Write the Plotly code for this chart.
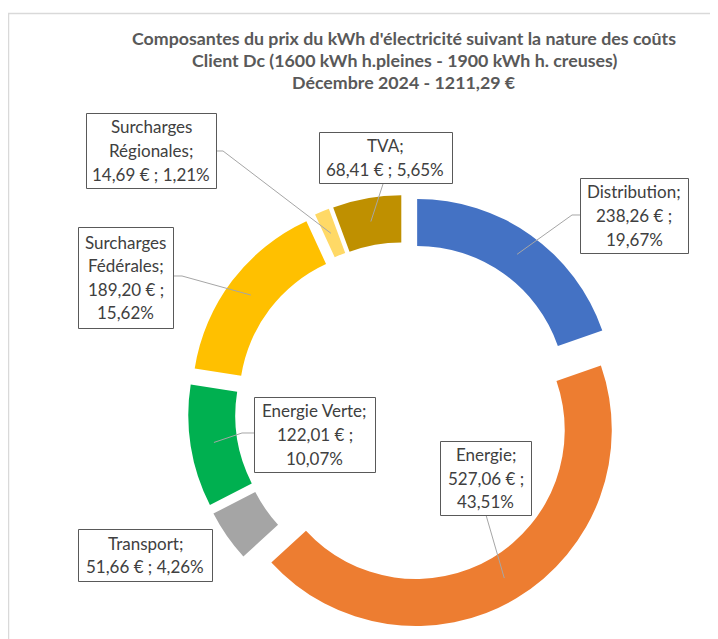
import math
import plotly.graph_objects as go

# page is drawn with the browser's default 8px body margin
OFF = 8
W, H = 718 - OFF, 639 - OFF

categories = ["Distribution", "Energie", "Transport", "Energie Verte",
              "Surcharges Fédérales", "Surcharges Régionales", "TVA"]
values = [238.26, 527.06, 51.66, 122.01, 189.20, 14.69, 68.41]
percents = ["19,67%", "43,51%", "4,26%", "10,07%", "15,62%", "1,21%", "5,65%"]
amounts = ["238,26 €", "527,06 €", "51,66 €", "122,01 €", "189,20 €", "14,69 €", "68,41 €"]
colors = ["#4472C4", "#ED7D31", "#A5A5A5", "#00B050", "#FFC000", "#FFD966", "#BF9000"]

title_lines = ["Composantes du prix du kWh d'électricité suivant la nature des coûts",
               "Client Dc (1600 kWh h.pleines - 1900 kWh h. creuses)",
               "Décembre 2024 - 1211,29 €"]

# label text lines (as wrapped in the original)
label_lines = {
    "Distribution": ["Distribution;", "238,26 € ;", "19,67%"],
    "Energie": ["Energie;", "527,06 € ;", "43,51%"],
    "Transport": ["Transport;", "51,66 € ; 4,26%"],
    "Energie Verte": ["Energie Verte;", "122,01 € ;", "10,07%"],
    "Surcharges Fédérales": ["Surcharges", "Fédérales;", "189,20 € ;", "15,62%"],
    "Surcharges Régionales": ["Surcharges", "Régionales;", "14,69 € ; 1,21%"],
    "TVA": ["TVA;", "68,41 € ; 5,65%"],
}

# layout (screen px): label boxes (left, top, right, bottom) and leader anchor/elbow
boxes = {
    "Surcharges Régionales": (86, 113, 216, 188),
    "TVA": (319, 132, 452, 183),
    "Surcharges Fédérales": (78, 227, 173, 328),
    "Distribution": (580, 178, 688, 253),
    "Energie Verte": (254, 397, 375, 472),
    "Transport": (78, 529, 212, 581),
    "Energie": (440, 441, 531, 515),
}
leaders = {
    "Surcharges Régionales": [(216, 151), (223, 151)],
    "TVA": [(383, 184)],
    "Surcharges Fédérales": [(173, 276), (182, 276)],
    "Distribution": [(580, 215), (572, 215)],
    "Energie Verte": [(254, 433), (242, 433)],
    "Energie": [(486, 515)],
}
LINE_H = 23.5

pull = 0.107
hole = 0.76
pie_cx, pie_cy, pie_half = 405 - OFF, 412 - OFF, 217
dom_x = [(pie_cx - pie_half) / W, (pie_cx + pie_half) / W]
dom_y = [(H - pie_cy - pie_half) / H, (H - pie_cy + pie_half) / H]

fig = go.Figure(go.Pie(
    labels=categories, values=values, sort=False, direction="clockwise",
    rotation=0, hole=hole, pull=[pull] * len(values),
    marker=dict(colors=colors, line=dict(width=0)),
    textinfo="none", hoverinfo="label+value+percent", showlegend=False,
    domain=dict(x=dom_x, y=dom_y),
))

def px2paper(x, y):
    """screen px -> paper coords"""
    return (x - OFF) / W, 1 - (y - OFF) / H

# pie geometry in screen px (plotly: r = box / (2 + 2*pull))
box_px = min((dom_x[1] - dom_x[0]) * W, (dom_y[1] - dom_y[0]) * H)
R = box_px / (2 + 2 * pull)
cx = (dom_x[0] + dom_x[1]) / 2 * W + OFF
cy = H - (dom_y[0] + dom_y[1]) / 2 * H + OFF
r_mid = R * ((1 + hole) / 2 + pull)

total = sum(values)
cum = 0
mid_pts = {}
for c, v in zip(categories, values):
    a = 2 * math.pi * (cum + v / 2) / total
    mid_pts[c] = (cx + r_mid * math.sin(a), cy - r_mid * math.cos(a))
    cum += v

x0, y0 = px2paper(8.5, 13.5)
shapes = [dict(type="rect", xref="paper", yref="paper",
               x0=x0, y0=y0, x1=1.05, y1=-0.05,
               line=dict(color="#D9D9D9", width=1.5), fillcolor="rgba(0,0,0,0)")]

for c, pts in leaders.items():
    pts = pts + [mid_pts[c]]
    path = ""
    for i, (x, y) in enumerate(pts):
        px_, py_ = px2paper(x, y)
        path += ("M" if i == 0 else " L") + f" {px_:.5f} {py_:.5f}"
    shapes.append(dict(type="path", xref="paper", yref="paper", path=path,
                       line=dict(color="#A6A6A6", width=1), layer="above"))

annotations = []
for i, line in enumerate(title_lines):
    x, y = px2paper(404, 38 + 22 * i)
    annotations.append(dict(x=x, y=y, xref="paper", yref="paper", showarrow=False,
                            text=f"<b>{line}</b>", xanchor="center", yanchor="middle",
                            font=dict(family="Lato", size=17.8, color="#595959")))

for c in categories:
    l, t, r, b = boxes[c]
    bx0, by0 = px2paper(l + 0.5, t + 0.5)
    bx1, by1 = px2paper(r + 0.5, b + 0.5)
    shapes.append(dict(type="rect", xref="paper", yref="paper",
                       x0=bx0, y0=by0, x1=bx1, y1=by1, layer="above",
                       line=dict(color="#595959", width=1), fillcolor="white"))
    lines = label_lines[c]
    n = len(lines)
    mid = (t + b) / 2
    for k, txt in enumerate(lines):
        ty = mid + (k - (n - 1) / 2) * LINE_H
        x, y = px2paper((l + r) / 2, ty)
        annotations.append(dict(x=x, y=y, xref="paper", yref="paper", showarrow=False,
                                text=txt, xanchor="center", yanchor="middle",
                                font=dict(family="Lato", size=17, color="#404040")))

fig.update_layout(width=W, height=H, margin=dict(l=0, r=0, t=0, b=0),
                  paper_bgcolor="white", plot_bgcolor="white",
                  shapes=shapes, annotations=annotations)

fig.write_html("out.html")
